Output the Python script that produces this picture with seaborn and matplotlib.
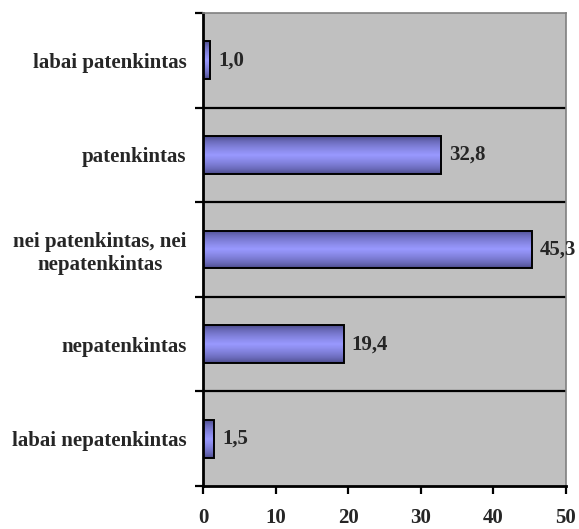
import numpy as np
import pandas as pd
import matplotlib
matplotlib.use("Agg")
import matplotlib.pyplot as plt
from matplotlib.ticker import FixedLocator
import seaborn as sns

categories = [
    "labai patenkintas",
    "patenkintas",
    "nei patenkintas, nei\nnepatenkintas",
    "nepatenkintas",
    "labai nepatenkintas",
]
values = [1.0, 32.8, 45.3, 19.4, 1.5]
x_ticks = [0, 10, 20, 30, 40, 50]

sns.set_style("white")
plt.rcParams["font.family"] = ["Liberation Serif", "DejaVu Serif"]
plt.rcParams["font.weight"] = "bold"

FS = 15

df = pd.DataFrame({"kategorija": categories, "procentai": values})

fig = plt.figure(figsize=(5.79, 5.29), dpi=100)
ax = fig.add_axes([203 / 579, 1 - 486 / 529, 363 / 579, 473 / 529])
ax.set_facecolor("#C0C0C0")

sns.barplot(data=df, x="procentai", y="kategorija", orient="h",
            color="#9999FF", width=0.40, edgecolor="black", linewidth=1.4,
            ax=ax, zorder=3)

# vertical shading across each bar: dark rims, light centre
t = np.linspace(0, 1, 64)
dark = np.array([0x44, 0x44, 0x80]) / 255
light = np.array([0x99, 0x99, 0xFF]) / 255
w = np.clip(1 - np.abs(t - 0.5) / 0.5, 0, 1) ** 0.6
grad = (dark[None, :] * (1 - w[:, None]) + light[None, :] * w[:, None])[:, None, :]

for p in list(ax.patches):
    x0, y0 = p.get_x(), p.get_y()
    pw, ph = p.get_width(), p.get_height()
    im = ax.imshow(grad, extent=[x0, x0 + pw, y0 + ph, y0], aspect="auto",
                   interpolation="bilinear", zorder=2.5)
    im.set_clip_path(p)
    p.set_facecolor("none")

ax.set_xlim(0, 50)
ax.set_ylim(len(categories) - 0.5, -0.5)

# value labels
for i, v in enumerate(values):
    ax.text(v + 1.1, i, f"{v:.1f}".replace(".", ","), va="center", ha="left",
            fontsize=FS, fontweight="bold", clip_on=False, zorder=5)

# category boundaries: gridlines and outer tick marks
bounds = np.arange(-0.5, len(categories), 1.0)
for b in bounds[1:-1]:
    ax.axhline(b, color="black", linewidth=1.6, zorder=1)
ax.yaxis.set_minor_locator(FixedLocator(bounds))
ax.tick_params(axis="y", which="minor", length=6, width=1.6, color="black", left=True)
ax.tick_params(axis="y", which="major", length=0, pad=12, labelsize=FS)
for lab in ax.get_yticklabels():
    lab.set_multialignment("center")
    lab.set_fontweight("bold")

ax.set_xticks(x_ticks)
ax.tick_params(axis="x", which="major", length=6, width=1.6, color="black",
               bottom=True, pad=10, labelsize=FS)
for lab in ax.get_xticklabels():
    lab.set_fontweight("bold")

ax.set_xlabel("")
ax.set_ylabel("")

for side in ["left", "bottom"]:
    ax.spines[side].set_color("black")
    ax.spines[side].set_linewidth(2)
for side in ["top", "right"]:
    ax.spines[side].set_color("#808080")
    ax.spines[side].set_linewidth(1.2)

fig.savefig("out.png", dpi=100, facecolor="white")
